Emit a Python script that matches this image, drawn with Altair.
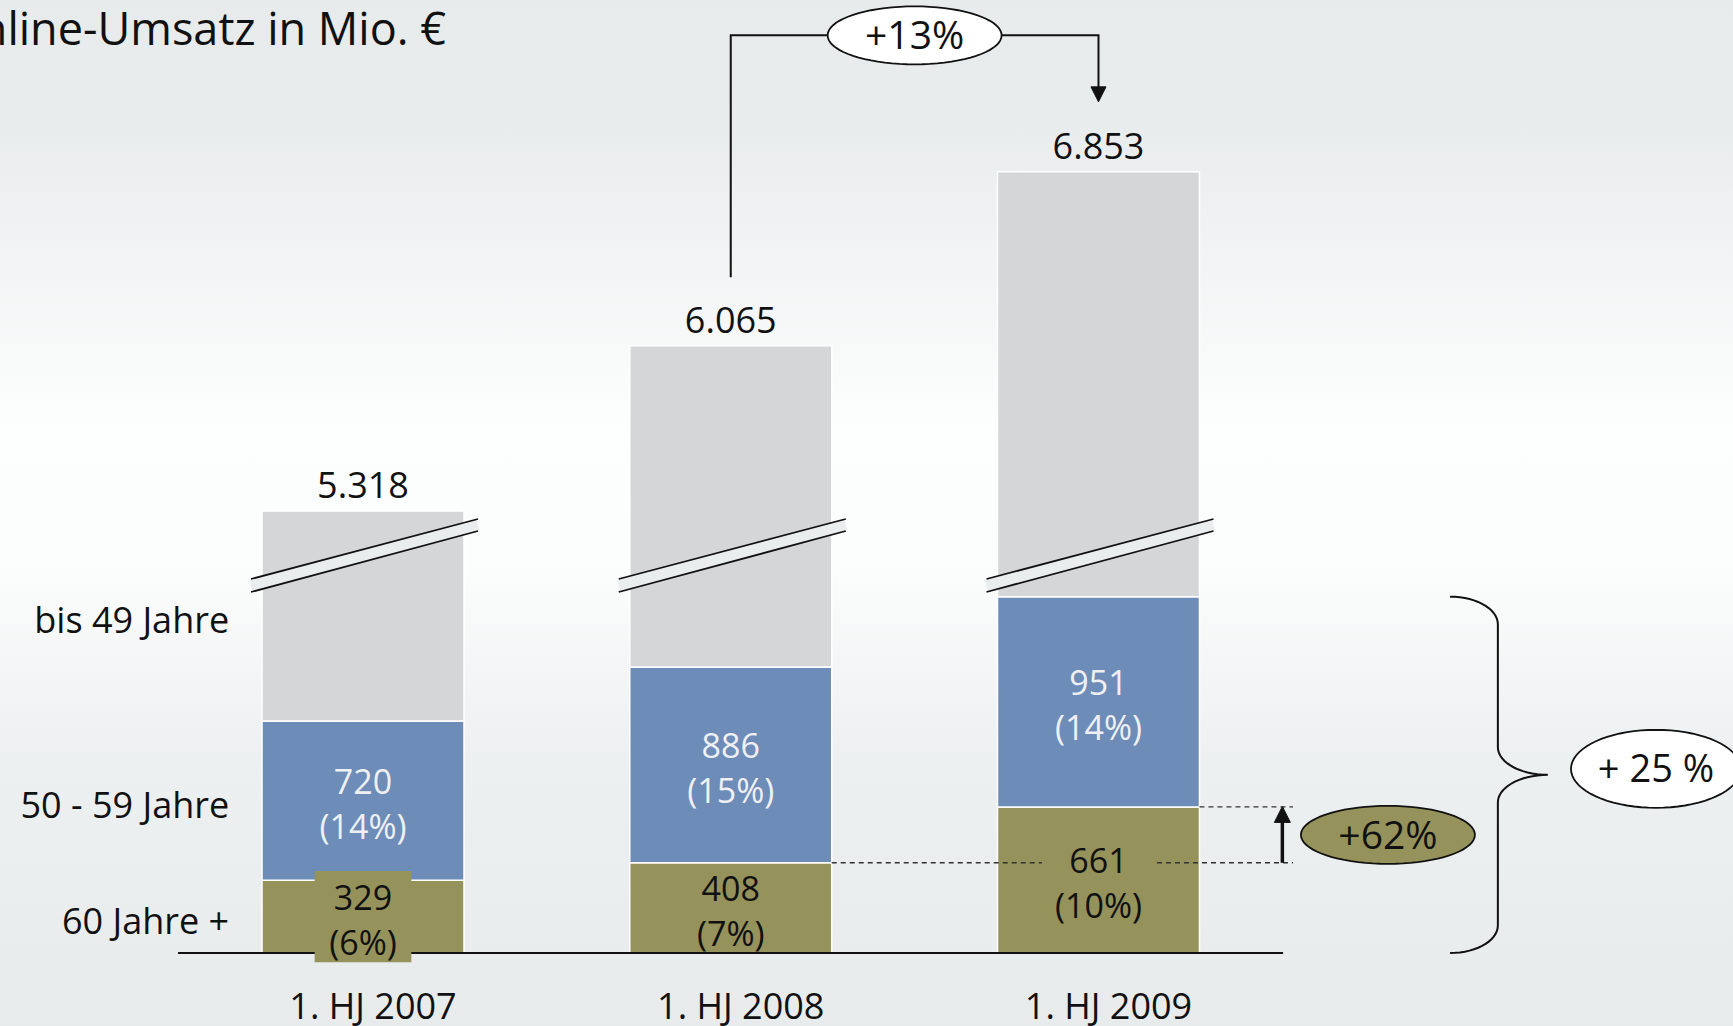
import altair as alt
import numpy as np
import pandas as pd

# ---- values -------------------------------------------------------------
periods = ["1. HJ 2007", "1. HJ 2008", "1. HJ 2009"]
totals = [5318, 6065, 6853]            # Online-Umsatz gesamt, Mio. EUR
age_60_plus = [329, 408, 661]          # 60 Jahre +
age_50_59 = [720, 886, 951]            # 50 - 59 Jahre
share_60_plus = ["6%", "7%", "10%"]
share_50_59 = ["14%", "15%", "14%"]
row_labels = ["bis 49 Jahre", "50 - 59 Jahre", "60 Jahre +"]
growth_total = "+13%"
growth_60_plus = "+62%"
growth_50_plus = "+ 25 %"
title_text = "Online-Umsatz in Mio. €"

# ---- layout / style -----------------------------------------------------
W, H = 1733, 1026
FONT = "Open Sans"
GRAY, BLUE, OLIVE = "#d5d6d8", "#6d8cb8", "#95925b"
INK = "#111111"
BAR_HALF = 0.2746

# broken value axis: everything between CUT_LO and CUT_HI is squeezed out
CUT_LO, CUT_HI = 1796, 5114
xs = alt.Scale(domain=[-0.9871, 3.7254], range=[0, W], nice=False, zero=False)
ys = alt.Scale(domain=[-330, 0, CUT_LO, CUT_HI, 7630],
               range=[H, 953, 556, 556, 0], nice=False, zero=False)


def X(f):
    return alt.X(f, type="quantitative", scale=xs, axis=None)


def X2(f):
    return alt.X2(f)


def Y(f):
    return alt.Y(f, type="quantitative", scale=ys, axis=None)


def Y2(f):
    return alt.Y2(f)


def fmt(v):
    return f"{v:,}".replace(",", ".")


# ---- stacked segments ---------------------------------------------------
seg_rows = []
for i in range(3):
    g, b, t = age_60_plus[i], age_50_59[i], totals[i]
    seg_rows += [
        dict(x=i - BAR_HALF, x2=i + BAR_HALF, lo=0, hi=g, seg=row_labels[2]),
        dict(x=i - BAR_HALF, x2=i + BAR_HALF, lo=g, hi=g + b, seg=row_labels[1]),
        dict(x=i - BAR_HALF, x2=i + BAR_HALF, lo=g + b, hi=t, seg=row_labels[0]),
    ]
segs = pd.DataFrame(seg_rows)

bars = alt.Chart(segs).mark_rect(stroke="white", strokeWidth=1.5).encode(
    x=X("x"), x2=X2("x2"), y=Y("lo"), y2=Y2("hi"),
    color=alt.Color("seg:N", legend=None,
                    scale=alt.Scale(domain=row_labels, range=[GRAY, BLUE, OLIVE])),
)

lab = pd.DataFrame({
    "i": [0, 1, 2],
    "green_mid": [g / 2 for g in age_60_plus],
    "blue_mid": [g + b / 2 for g, b in zip(age_60_plus, age_50_59)],
    "green_txt": [f"{g}\n({s})" for g, s in zip(age_60_plus, share_60_plus)],
    "blue_txt": [f"{b}\n({s})" for b, s in zip(age_50_59, share_50_59)],
    "total": totals,
    "total_txt": [fmt(t) for t in totals],
    "period": periods,
})
# a label too tall for its segment gets a patch of the segment colour behind it
lab["box"] = [g * 0.221 < 80 for g in age_60_plus]
boxes = lab[lab["box"]].copy()
boxes["bx"] = boxes["i"] - 0.1315
boxes["bx2"] = boxes["i"] + 0.1315
boxes["by"] = boxes["green_mid"] + 206
boxes["by2"] = boxes["green_mid"] - 206

label_box = alt.Chart(boxes).mark_rect(color=OLIVE).encode(
    x=X("bx"), x2=X2("bx2"), y=Y("by"), y2=Y2("by2"))

# two-line labels: shift the block so that it sits centred on the segment
seg_text = dict(font=FONT, fontSize=34, lineHeight=45, lineBreak="\n",
                align="center", baseline="middle", dy=-17)
green_lbl = alt.Chart(lab).mark_text(color=INK, **seg_text).encode(
    x=X("i"), y=Y("green_mid"), text="green_txt:N")
blue_lbl = alt.Chart(lab).mark_text(color="#eef0f3", **seg_text).encode(
    x=X("i"), y=Y("blue_mid"), text="blue_txt:N")

total_lbl = alt.Chart(lab).mark_text(
    font=FONT, fontSize=36, color=INK, align="center", baseline="alphabetic", dy=-13
).encode(x=X("i"), y=Y("total"), text="total_txt:N")

period_lbl = alt.Chart(lab.assign(zero=0)).mark_text(
    font=FONT, fontSize=36, color=INK, align="center", baseline="alphabetic", dy=66, dx=10
).encode(x=X("i"), y=Y("zero"), text="period:N")

# ---- axis cut markers ---------------------------------------------------
cut = pd.DataFrame({"a": [i - 0.3045 for i in range(3)],
                    "b": [i + 0.3127 for i in range(3)],
                    "y": [CUT_LO] * 3})
cut_band = alt.Chart(cut).mark_rule(color="#e9edee", strokeWidth=12,
                                    yOffset=29.5, y2Offset=-31).encode(
    x=X("a"), x2=X2("b"), y=Y("y"), y2=Y2("y"))
cut_up = alt.Chart(cut).mark_rule(color=INK, strokeWidth=1.8,
                                  yOffset=23, y2Offset=-37).encode(
    x=X("a"), x2=X2("b"), y=Y("y"), y2=Y2("y"))
cut_dn = alt.Chart(cut).mark_rule(color=INK, strokeWidth=1.8,
                                  yOffset=36, y2Offset=-25).encode(
    x=X("a"), x2=X2("b"), y=Y("y"), y2=Y2("y"))

# ---- baseline and row labels -------------------------------------------
base = alt.Chart(pd.DataFrame({"a": [-0.503], "b": [2.502], "y": [0]})).mark_rule(
    color=INK, strokeWidth=2.2).encode(x=X("a"), x2=X2("b"), y=Y("y"))

rows = pd.DataFrame({
    "t": row_labels,
    "y": [CUT_LO - 270, age_60_plus[0] + age_50_59[0] / 2, age_60_plus[0] / 2],
    "x": [-0.364] * 3,
})
row_lbl = alt.Chart(rows).mark_text(
    font=FONT, fontSize=36, color=INK, align="right", baseline="middle", dy=6
).encode(x=X("x"), y=Y("y"), text="t:N")

# ---- annotation shapes --------------------------------------------------
th = np.linspace(0, 2 * np.pi, 73)


def ellipse(ry):
    pts = [f"{np.cos(a):.4f},{ry * np.sin(a):.4f}" for a in th]
    return "M" + "L".join(pts) + "Z"


TRI_DOWN = "M-1,-1L1,-1L0,1Z"
TRI_UP = "M-1,1L1,1L0,-1Z"

# +13 % connector from the 2008 total to the 2009 total
BRACKET_Y = 7470
conn = pd.DataFrame({
    "x": [1, 1, 2, 2],
    "y": [totals[1] + 310, BRACKET_Y, BRACKET_Y, totals[2] + 350],
    "k": [0, 1, 2, 3],
})
conn_line = alt.Chart(conn).mark_line(color=INK, strokeWidth=2, interpolate="linear").encode(
    x=X("x"), y=Y("y"), order=alt.Order("k:Q"))
conn_head = alt.Chart(pd.DataFrame({"x": [2], "y": [totals[2] + 316]})).mark_point(
    shape=TRI_DOWN, size=225, filled=True, fill=INK, stroke=INK, strokeWidth=1,
    opacity=1, yOffset=-7.5).encode(x=X("x"), y=Y("y"))

# +62 % arrow between the two 60+ levels
lvl_a, lvl_b = age_60_plus[1], age_60_plus[2]
dash = pd.DataFrame({
    "a": [1 + BAR_HALF, 2.159, 2 + BAR_HALF],
    "b": [1.846, 2.529, 2.529],
    "y": [lvl_a, lvl_a, lvl_b],
})
dash_rules = alt.Chart(dash).mark_rule(color="#333333", strokeWidth=1.4,
                                       strokeDash=[5, 4]).encode(
    x=X("a"), x2=X2("b"), y=Y("y"))
arrow = pd.DataFrame({"x": [2.5], "y": [lvl_a], "y2": [lvl_b - 40]})
arrow_line = alt.Chart(arrow).mark_rule(color=INK, strokeWidth=3.5).encode(
    x=X("x"), y=Y("y"), y2=Y2("y2"))
arrow_head = alt.Chart(pd.DataFrame({"x": [2.5], "y": [lvl_b]})).mark_point(
    shape=TRI_UP, size=256, filled=True, fill=INK, stroke=INK, strokeWidth=1,
    opacity=1, yOffset=7.5).encode(x=X("x"), y=Y("y"))

# brace over the 50+ segments of 2009
top = age_60_plus[2] + age_50_59[2]
mid = top / 2
x_end, x_vert, x_tip, ry = 2.956, 3.086, 3.222, 125
q = np.linspace(0, np.pi / 2, 16)
bx, by = [], []
# upper end, bending down
bx += list(x_end + (x_vert - x_end) * np.sin(q)); by += list(top - ry + ry * np.cos(q))
# into the tip from above
bx += list(x_tip - (x_tip - x_vert) * np.cos(q)); by += list(mid + ry - ry * np.sin(q))
# out of the tip downwards
bx += list(x_tip - (x_tip - x_vert) * np.sin(q)); by += list(mid - ry + ry * np.cos(q))
# lower end
bx += list(x_end + (x_vert - x_end) * np.cos(q)); by += list(ry - ry * np.sin(q))
brace = pd.DataFrame({"x": bx, "y": by, "k": range(len(bx))})
brace_line = alt.Chart(brace).mark_line(color=INK, strokeWidth=2).encode(
    x=X("x"), y=Y("y"), order=alt.Order("k:Q"))

bubbles = pd.DataFrame({
    "x": [1.5, 2.787, 3.516],
    "y": [BRACKET_Y, (lvl_a + lvl_b) / 2, mid],
    "t": [growth_total, growth_60_plus, growth_50_plus],
})
bubble_13 = alt.Chart(bubbles.iloc[[0]]).mark_point(
    shape=ellipse(58 / 174), size=174 ** 2, filled=True, fill="white",
    stroke=INK, strokeWidth=1.8, opacity=1).encode(x=X("x"), y=Y("y"))
bubble_62 = alt.Chart(bubbles.iloc[[1]]).mark_point(
    shape=ellipse(58 / 174), size=174 ** 2, filled=True, fill=OLIVE,
    stroke=INK, strokeWidth=1.8, opacity=1).encode(x=X("x"), y=Y("y"))
bubble_25 = alt.Chart(bubbles.iloc[[2]]).mark_point(
    shape=ellipse(78 / 170), size=170 ** 2, filled=True, fill="white",
    stroke=INK, strokeWidth=1.8, opacity=1, yOffset=-6).encode(x=X("x"), y=Y("y"))
bubble_txt = alt.Chart(bubbles.iloc[[0, 1]]).mark_text(
    font=FONT, fontSize=39, color=INK, align="center", baseline="middle", dy=2
).encode(x=X("x"), y=Y("y"), text="t:N")
bubble_txt_25 = alt.Chart(bubbles.iloc[[2]]).mark_text(
    font=FONT, fontSize=38, color=INK, align="center", baseline="middle", dy=-4
).encode(x=X("x"), y=Y("y"), text="t:N")

# ---- background and title ----------------------------------------------
one = pd.DataFrame({"t": [title_text]})
bg = alt.Chart(one).mark_rect(
    fill=alt.LinearGradient(
        gradient="linear", x1=0, x2=0, y1=0, y2=1,
        stops=[
            alt.GradientStop(offset=0, color="#e8ebec"),
            alt.GradientStop(offset=0.12, color="#e9eced"),
            alt.GradientStop(offset=0.42, color="#fdfefe"),
            alt.GradientStop(offset=0.56, color="#fbfcfc"),
            alt.GradientStop(offset=0.74, color="#edf0f1"),
            alt.GradientStop(offset=1, color="#e8ebec"),
        ],
    )
).encode(x=alt.value(0), x2=alt.value(W), y=alt.value(0), y2=alt.value(H))

title = alt.Chart(one).mark_text(
    font=FONT, fontSize=45, color=INK, align="right", baseline="alphabetic"
).encode(x=alt.value(446), y=alt.value(45), text="t:N")

# the baseline sits under the label patch and the value labels
chart = alt.layer(
    bg, title,
    bars, cut_band, cut_up, cut_dn,
    base, dash_rules, label_box, green_lbl, blue_lbl, total_lbl,
    period_lbl, row_lbl,
    conn_line, conn_head, bubble_13,
    arrow_line, arrow_head, bubble_62,
    brace_line, bubble_25,
    bubble_txt, bubble_txt_25,
).properties(
    width=W, height=H, padding=0,
    autosize=alt.AutoSizeParams(type="none"),
).configure_view(stroke=None).configure(background="#e9eced")

chart.save("out.html", embed_options={"renderer": "svg", "actions": False})
